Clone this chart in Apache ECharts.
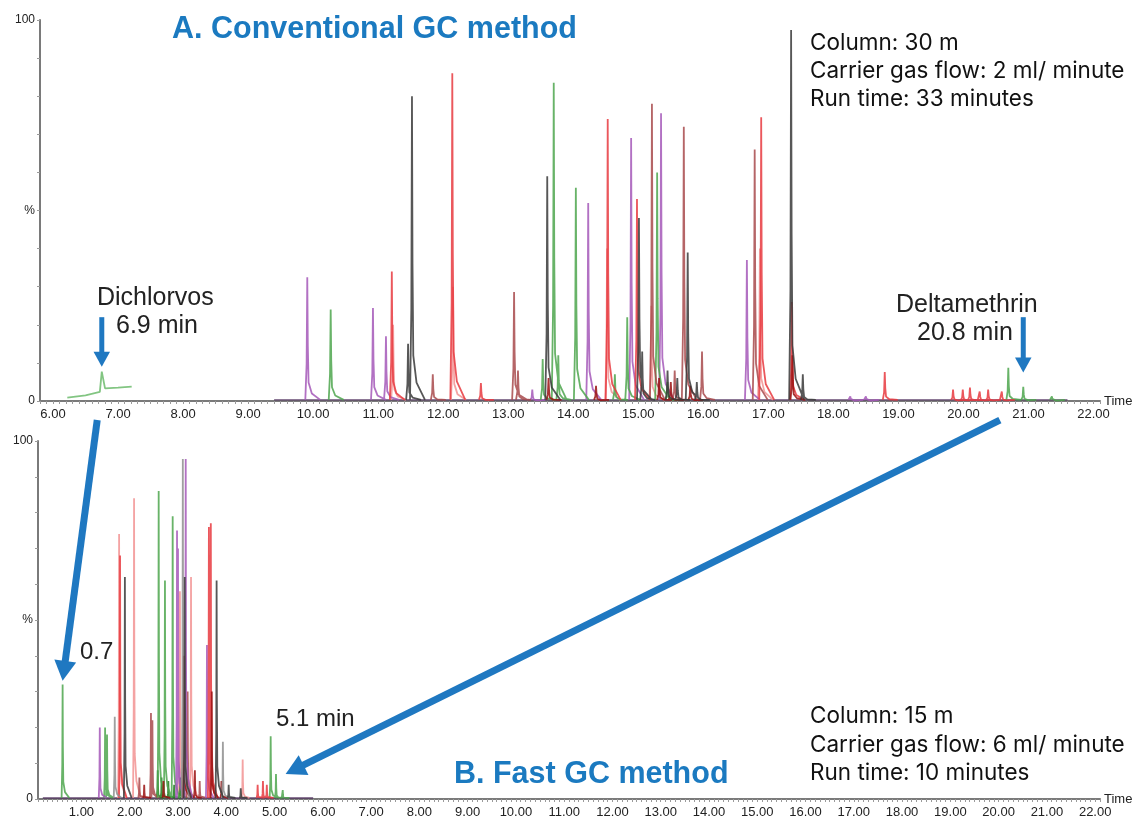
<!DOCTYPE html>
<html><head><meta charset="utf-8">
<script src="https://cdn.jsdelivr.net/npm/echarts@6/dist/echarts.min.js"></script>
<style>html,body{margin:0;padding:0;background:#fff}#c{width:1134px;height:819px}</style>
</head><body><div id="c"></div>
<script>
// ---------- tick labels ----------
const xTicksA = [6,7,8,9,10,11,12,13,14,15,16,17,18,19,20,21,22];
const xTicksB = [1,2,3,4,5,6,7,8,9,10,11,12,13,14,15,16,17,18,19,20,21,22];
const yTickValues = [0, 50, 100];
const yTickTexts = ['0', '%', '100'];

// ---------- A. Conventional GC: peaks [time (min), height (%)] ----------
const A_purple = [[9.91,32.5],[10.92,24.4],[11.12,17],[13.37,3],[14.23,52],[14.89,69],[15.35,75.5],[16.67,37],[18.26,1.2],[18.50,1.2]];
const A_green  = [[10.27,24],[13.53,11],[13.70,83.5],[13.77,12],[14.04,56],[14.64,7],[14.83,22],[15.29,60],[15.45,5],[20.69,8.7],[20.92,3.7],[21.36,1.2]];
const A_red    = [[11.21,34],[12.14,86],[12.58,4.7],[14.53,74],[14.98,53],[16.89,74.5],[17.36,26],[18.79,7.6],[19.84,3],[19.99,3],[20.10,3.5],[20.25,2.5],[20.38,3],[20.59,2.5]];
const A_pink   = [[11.23,20],[12.15,30],[14.52,40],[15.20,25],[16.87,40]];
const A_brown  = [[11.84,7],[13.09,28.6],[13.15,8],[15.21,78],[15.56,8],[15.70,72],[15.98,13],[16.79,66]];
const A_black  = [[11.46,15],[11.52,80],[13.60,59],[15.01,48],[15.06,13],[15.45,8],[15.60,6],[15.76,39],[15.90,5],[17.35,97.4],[17.53,7]];
const A_darkred = [[13.62,6],[14.35,4],[15.32,6],[15.50,5],[15.80,4],[17.37,12]];
const A_dichlorvos = [[6.22,0.9],[6.50,1.5],[6.72,2.4],[6.75,7.7],[6.80,3.3],[7.00,3.5],[7.21,3.8]];
const A_baseline = [[9.4,0.3],[21.6,0.3]];

// ---------- B. Fast GC: peaks [time (min), height (%)] ----------
const B_green  = [[0.61,32],[1.49,20],[1.53,18],[2.60,86],[2.73,61],[2.89,79],[4.92,17.5],[5.03,7],[5.17,2.5]];
const B_purple = [[1.38,20],[2.98,75],[3.00,70],[3.16,95],[3.60,43]];
const B_gray   = [[1.69,23],[3.10,95],[3.93,16]];
const B_pink   = [[1.78,74],[2.09,84],[3.04,58],[3.27,62],[4.34,11]];
const B_red    = [[1.80,68],[3.64,76],[3.68,77],[4.65,4],[4.76,5],[4.84,4]];
const B_black  = [[1.90,62],[3.14,62],[3.80,61],[4.05,4],[4.30,3]];
const B_brown  = [[2.44,24],[2.47,22],[3.20,30],[2.20,6],[3.45,5]];
const B_darkgreen = [[2.58,8],[2.66,6],[2.80,5],[2.92,4],[3.05,6]];
const B_darkred = [[2.30,4],[2.70,5],[3.12,40],[3.35,8],[3.70,30],[3.90,5]];
const B_baseline = [[0.2,0.3],[5.8,0.3]];

// ---------- helpers ----------
function peakLine(peaks, w) {
  const d = [];
  peaks.forEach(function (p) {
    const t = p[0], h = p[1];
    d.push([t - 0.03 * w, 0.3], [t - 0.01 * w, h * 0.3], [t, h], [t + 0.008 * w, h * 0.45],
           [t + 0.02 * w, h * 0.15], [t + 0.07 * w, h * 0.06], [t + 0.2 * w, 0.3], null);
  });
  return d;
}
function mkSeries(data, color, grid, width) {
  return { type: 'line', xAxisIndex: grid, yAxisIndex: grid, data: data, showSymbol: false,
    symbol: 'none', connectNulls: false, animation: false, silent: true,
    lineStyle: { color: color, width: width || 1.8, opacity: 0.85 } };
}
const C = { green: '#4da64d', purple: '#a458b8', red: '#e8393f', pink: '#f29393', brown: '#a84a4c',
  black: '#3a3a3a', gray: '#8e8e8e', darkgreen: '#1d7a1d', darkred: '#9a1010', base: '#4b2b5a' };

function xAxisCfg(grid, min, ticks) {
  return { type: 'value', gridIndex: grid, min: min, max: 22.1, interval: 0.1,
    name: 'Time', nameLocation: 'end', nameGap: 4,
    nameTextStyle: { fontFamily: 'Liberation Sans', fontSize: 13, color: '#222', verticalAlign: 'middle', padding: [0,0,6,0] },
    axisLine: { show: true, onZero: false, lineStyle: { color: '#7a7a7a', width: 2 } },
    axisTick: { show: true, length: 3, lineStyle: { color: '#9a9a9a', width: 1 } },
    splitLine: { show: false },
    axisLabel: { interval: 0, margin: 7, fontFamily: 'Liberation Sans', fontSize: 13, color: '#222', hideOverlap: false,
      formatter: function (v) {
        const r = Math.round(v);
        return (Math.abs(v - r) < 1e-6 && ticks.indexOf(r) >= 0) ? r.toFixed(2) : '';
      } } };
}
function yAxisCfg(grid) {
  return { type: 'value', gridIndex: grid, min: 0, max: 100, interval: 10,
    axisLine: { show: true, lineStyle: { color: '#7a7a7a', width: 2 } },
    axisTick: { show: true, length: 3, lineStyle: { color: '#9a9a9a' } },
    splitLine: { show: false },
    axisLabel: { margin: 5, fontFamily: 'Liberation Sans', fontSize: 12, color: '#222',
      formatter: function (v) { const i = yTickValues.indexOf(Math.round(v)); return i >= 0 ? yTickTexts[i] : ''; } } };
}

const chart = echarts.init(document.getElementById('c'), null, { renderer: 'canvas' });
const wA = 1.0, wB = 0.7;
chart.setOption({
  animation: false,
  backgroundColor: '#fff',
  grid: [
    { left: 40, top: 20, width: 1060, height: 381 },
    { left: 38, top: 441, width: 1062, height: 360 }
  ],
  xAxis: [xAxisCfg(0, 5.8, xTicksA), xAxisCfg(1, 0.1, xTicksB)],
  yAxis: [yAxisCfg(0), yAxisCfg(1)],
  series: [
    mkSeries(A_baseline, C.base, 0, 1.4),
    mkSeries(A_dichlorvos, '#6cbb6c', 0),
    mkSeries(peakLine(A_pink, wA), C.pink, 0),
    mkSeries(peakLine(A_purple, wA), C.purple, 0),
    mkSeries(peakLine(A_green, wA), C.green, 0),
    mkSeries(peakLine(A_brown, wA), C.brown, 0),
    mkSeries(peakLine(A_red, wA), C.red, 0),
    mkSeries(peakLine(A_darkred, wA), C.darkred, 0),
    mkSeries(peakLine(A_black, wA), C.black, 0),
    mkSeries(B_baseline, C.base, 1, 1.4),
    mkSeries(peakLine(B_pink, wB), C.pink, 1),
    mkSeries(peakLine(B_darkgreen, wB), C.darkgreen, 1),
    mkSeries(peakLine(B_brown, wB), C.brown, 1),
    mkSeries(peakLine(B_green, wB), C.green, 1),
    mkSeries(peakLine(B_purple, wB), C.purple, 1),
    mkSeries(peakLine(B_red, wB), C.red, 1),
    mkSeries(peakLine(B_darkred, wB), C.darkred, 1),
    mkSeries(peakLine(B_gray, wB), C.gray, 1),
    mkSeries(peakLine(B_black, wB), C.black, 1)
  ]
});

// ---------- annotations ----------
const BLUE = '#1f78c1';
function px(grid, pt) { return chart.convertToPixel({ gridIndex: grid }, pt); }
function arrow(p0, p1, lw, head) {
  const dx = p1[0] - p0[0], dy = p1[1] - p0[1], L = Math.sqrt(dx * dx + dy * dy);
  const ux = dx / L, uy = dy / L, nx = -uy, ny = ux;
  const bx = p1[0] - ux * head, by = p1[1] - uy * head;
  return [
    { type: 'line', silent: true, shape: { x1: p0[0], y1: p0[1], x2: bx + ux * 2, y2: by + uy * 2 },
      style: { stroke: BLUE, lineWidth: lw, lineCap: 'butt' } },
    { type: 'polygon', silent: true, shape: { points: [[p1[0], p1[1]], [bx + nx * head * 0.55, by + ny * head * 0.55], [bx - nx * head * 0.55, by - ny * head * 0.55]] },
      style: { fill: BLUE } }
  ];
}
function txt(x, y, s, size, opts) {
  opts = opts || {};
  return { type: 'text', x: x, y: y, silent: true,
    style: { text: s, fill: opts.color || '#111', fontSize: size, fontFamily: opts.family || 'Liberation Sans',
      fontWeight: opts.weight || 'normal', textVerticalAlign: 'middle', textAlign: 'left' } };
}
const g = [];
g.push.apply(g, arrow(px(0, [6.68, -5]), px(1, [0.61, 33]), 7, 20));
g.push.apply(g, arrow(px(0, [20.56, -5]), px(1, [5.23, 7]), 7, 20));
g.push.apply(g, arrow(px(0, [6.75, 22]), px(0, [6.75, 9]), 5, 15));
g.push.apply(g, arrow(px(0, [20.92, 22]), px(0, [20.92, 7.5]), 5, 15));
const titleOpts = { color: '#1b7ac0', weight: 'bold' };
g.push(txt(172, 30, 'A. Conventional GC method', 30.5, titleOpts));
g.push(txt(454, 775, 'B. Fast GC method', 30.5, titleOpts));
const info = { family: 'Inter', color: '#111' };
g.push(txt(810, 43, 'Column: 30 m', 22.5, info));
g.push(txt(810, 71, 'Carrier gas flow: 2 ml/ minute', 22.5, info));
g.push(txt(810, 99, 'Run time: 33 minutes', 22.5, info));
g.push(txt(810, 716, 'Column: 15 m', 22.5, info));
g.push(txt(810, 745, 'Carrier gas flow: 6 ml/ minute', 22.5, info));
g.push(txt(810, 773, 'Run time: 10 minutes', 22.5, info));
const lab = { color: '#222' };
g.push(txt(97, 298, 'Dichlorvos', 25, lab));
g.push(txt(116, 326, '6.9 min', 25, lab));
g.push(txt(896, 305, 'Deltamethrin', 25, lab));
g.push(txt(917, 333, '20.8 min', 25, lab));
g.push(txt(80, 652, '0.7', 24, lab));
g.push(txt(276, 719, '5.1 min', 24, lab));
chart.setOption({ graphic: g });
</script>
</body></html>
